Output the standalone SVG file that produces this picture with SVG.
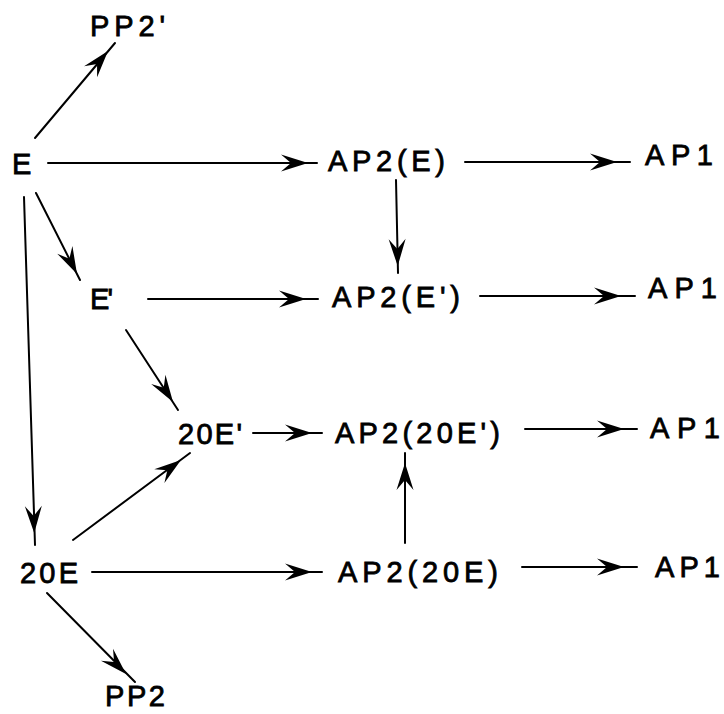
<svg xmlns="http://www.w3.org/2000/svg" xmlns:xlink="http://www.w3.org/1999/xlink" width="724" height="714" viewBox="0 0 724 714">
  <style>
    .lbl { font-family: "Liberation Sans", Arial, Helvetica, sans-serif; font-size: 29px; fill: #000; stroke: #000; stroke-width: 0.8; }
    .edge { stroke: #000; stroke-width: 2; fill: none; stroke-linecap: round; }
    .head { fill: #000; stroke: none; }
  </style>
  <defs>
    <!-- barbed arrowhead, tip at origin pointing along +x -->
    <path id="head" class="head" d="M0,0 L-27,-8.5 L-17,0 L-27,8.5 Z"/>
  </defs>
  <rect width="724" height="714" fill="#fff"/>

  <g id="connectors">
    <!-- E -> PP2' -->
    <line class="edge" x1="35" y1="138" x2="115" y2="43"/>
    <use xlink:href="#head" transform="translate(108,51) rotate(-49.9)"/>
    <!-- E -> AP2(E) -->
    <line class="edge" x1="48" y1="163" x2="317" y2="163"/>
    <use xlink:href="#head" transform="translate(308,163)"/>
    <!-- AP2(E) -> AP1 -->
    <line class="edge" x1="465" y1="162" x2="630" y2="162"/>
    <use xlink:href="#head" transform="translate(617,162)"/>
    <!-- AP2(E) -> AP2(E') -->
    <line class="edge" x1="396" y1="180" x2="398" y2="273"/>
    <use xlink:href="#head" transform="translate(397.7,266) rotate(88.8)"/>
    <!-- E -> E' -->
    <line class="edge" x1="36" y1="193" x2="80" y2="280"/>
    <use xlink:href="#head" transform="translate(77,274) rotate(63.2)"/>
    <!-- E' -> AP2(E') -->
    <line class="edge" x1="148" y1="299" x2="318" y2="299"/>
    <use xlink:href="#head" transform="translate(306,299)"/>
    <!-- AP2(E') -> AP1 -->
    <line class="edge" x1="480" y1="296" x2="635" y2="296"/>
    <use xlink:href="#head" transform="translate(621,296)"/>
    <!-- E' -> 20E' -->
    <line class="edge" x1="126" y1="330" x2="178" y2="410"/>
    <use xlink:href="#head" transform="translate(173,402) rotate(57)"/>
    <!-- 20E' -> AP2(20E') -->
    <line class="edge" x1="253" y1="433" x2="322" y2="433"/>
    <use xlink:href="#head" transform="translate(312,433)"/>
    <!-- AP2(20E') -> AP1 -->
    <line class="edge" x1="525" y1="429" x2="637" y2="429"/>
    <use xlink:href="#head" transform="translate(624,429)"/>
    <!-- AP2(20E) -> AP2(20E') -->
    <line class="edge" x1="405" y1="543" x2="405" y2="453"/>
    <use xlink:href="#head" transform="translate(405,463) rotate(-90)"/>
    <!-- E -> 20E -->
    <line class="edge" x1="24" y1="197" x2="35" y2="545"/>
    <use xlink:href="#head" transform="translate(34.2,533) rotate(88.2)"/>
    <!-- 20E -> 20E' -->
    <line class="edge" x1="73" y1="540" x2="190" y2="453"/>
    <use xlink:href="#head" transform="translate(181,460) rotate(-36.6)"/>
    <!-- 20E -> AP2(20E) -->
    <line class="edge" x1="92" y1="572" x2="322" y2="572"/>
    <use xlink:href="#head" transform="translate(312,572)"/>
    <!-- AP2(20E) -> AP1 -->
    <line class="edge" x1="522" y1="567" x2="637" y2="567"/>
    <use xlink:href="#head" transform="translate(624,567)"/>
    <!-- 20E -> PP2 -->
    <line class="edge" x1="47" y1="593" x2="135" y2="682"/>
    <use xlink:href="#head" transform="translate(126,674) rotate(45.3)"/>
  </g>

  <g id="n-pp2p"><text class="lbl" x="90" y="36" textLength="75" lengthAdjust="spacing">PP2'</text></g>
  <g id="n-e"><text class="lbl" x="12" y="174">E</text></g>
  <g id="n-ap2e"><text class="lbl" x="328" y="171" textLength="117" lengthAdjust="spacing">AP2(E)</text></g>
  <g id="n-ap1-a"><text class="lbl" x="645" y="165" textLength="68" lengthAdjust="spacing">AP1</text></g>

  <g id="n-ep"><text class="lbl" x="90" y="309" textLength="23" lengthAdjust="spacing">E'</text></g>
  <g id="n-ap2ep"><text class="lbl" x="332" y="307" textLength="128" lengthAdjust="spacing">AP2(E')</text></g>
  <g id="n-ap1-b"><text class="lbl" x="648" y="298" textLength="69" lengthAdjust="spacing">AP1</text></g>

  <g id="n-20ep"><text class="lbl" x="178" y="444" textLength="64" lengthAdjust="spacing">20E'</text></g>
  <g id="n-ap2-20ep"><text class="lbl" x="335" y="443" textLength="165" lengthAdjust="spacing">AP2(20E')</text></g>
  <g id="n-ap1-c"><text class="lbl" x="650" y="438" textLength="70" lengthAdjust="spacing">AP1</text></g>

  <g id="n-20e"><text class="lbl" x="20" y="583" textLength="58" lengthAdjust="spacing">20E</text></g>
  <g id="n-ap2-20e"><text class="lbl" x="338" y="582" textLength="160" lengthAdjust="spacing">AP2(20E)</text></g>
  <g id="n-ap1-d"><text class="lbl" x="655" y="577" textLength="65" lengthAdjust="spacing">AP1</text></g>

  <g id="n-pp2"><text class="lbl" x="105" y="706" textLength="60" lengthAdjust="spacing">PP2</text></g>
</svg>
